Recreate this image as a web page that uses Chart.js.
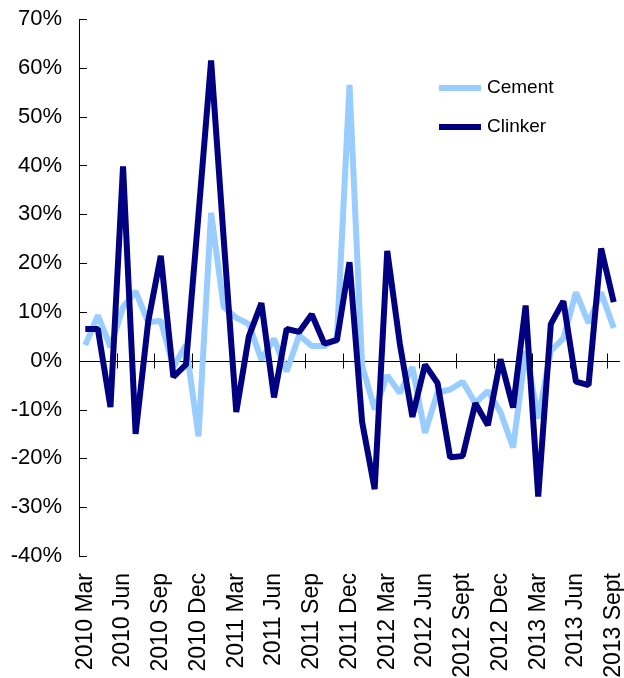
<!DOCTYPE html>
<html>
<head>
<meta charset="utf-8">
<script src="https://cdn.jsdelivr.net/npm/chart.js@4"></script>
<style>
  html, body { margin: 0; padding: 0; background: #fff; }
  #box { width: 624px; height: 678px; }
</style>
</head>
<body>
<div id="box"><canvas id="graphe"></canvas></div>
<script>
// donnees (variation en %)

var mois = [
  "2010 Mar","2010 Apr","2010 May","2010 Jun","2010 Jul","2010 Aug","2010 Sep","2010 Oct","2010 Nov","2010 Dec",
  "2011 Jan","2011 Feb","2011 Mar","2011 Apr","2011 May","2011 Jun","2011 Jul","2011 Aug","2011 Sep","2011 Oct","2011 Nov","2011 Dec",
  "2012 Jan","2012 Feb","2012 Mar","2012 Apr","2012 May","2012 Jun","2012 Jul","2012 Aug","2012 Sept","2012 Oct","2012 Nov","2012 Dec",
  "2013 Jan","2013 Feb","2013 Mar","2013 Apr","2013 May","2013 Jun","2013 Jul","2013 Aug","2013 Sept"
];

var cement = [
  3.2, 9.3, 2.8, 11, 14.2, 7.9, 8.2, -1.3, 3.2, -15.5,
  30.3, 11, 8.8, 7.5, 0.2, 4.5, -2.2, 5.2, 3, 3, 4.6, 56.5,
  -1, -10, -3, -6.6, -1.3, -14.8, -6.5, -5.9, -4.3, -8.7, -6.2, -10.5,
  -17.8, 2, -11.8, 2, 4.6, 14, 7.7, 14, 6.7
];

var clinker = [
  6.5, 6.5, -9.5, 39.8, -15, 8, 21.5, -3.3, -0.8, 30,
  61.5, 25, -10.5, 5, 11.8, -7.5, 6.5, 5.9, 9.5, 3.5, 4.2, 20.2,
  -12.5, -26.3, 22.5, 3.5, -11.5, -0.8, -4.6, -19.8, -19.5, -8.7, -13.2, 0.3,
  -9.6, 11.3, -27.8, 7.5, 12.2, -4.3, -5, 23, 12
];

var yMin = -40, yMax = 70, yPas = 10;

var couleurCement = "#99ccff";
var couleurClinker = "#000080";

Chart.defaults.font.family = "'Liberation Sans', Arial, sans-serif";
Chart.defaults.color = "#000";

// axes dessines a la main : ligne du zero, petits traits

var axesPlugin = {
  id: "axesExcel",
  beforeDatasetsDraw: function(chart) {
    var ctx = chart.ctx;
    var area = chart.chartArea;
    var x = chart.scales.x;
    var y = chart.scales.y;
    var y0 = Math.round(y.getPixelForValue(0)) + 0.5;
    var demi = (x.getPixelForValue(1) - x.getPixelForValue(0)) / 2;

    ctx.save();
    ctx.strokeStyle = "#000";
    ctx.lineWidth = 1;
    ctx.beginPath();

    // traits interieurs axe y
    y.ticks.forEach(function(t) {
      var py = Math.round(y.getPixelForValue(t.value)) + 0.5;
      ctx.moveTo(area.left, py);
      ctx.lineTo(area.left + 8, py);
    });

    // ligne du zero
    ctx.moveTo(area.left, y0);
    ctx.lineTo(area.right, y0);

    // traits tous les 3 mois
    for (let i = 3; i < mois.length; i += 3) {
      var px = Math.round(x.getPixelForValue(i) - demi) + 0.5;
      ctx.moveTo(px, y0 - 8);
      ctx.lineTo(px, y0 + 7);
    }
    ctx.stroke();
    ctx.restore();
  },
  afterDraw: function(chart) {
    // legende dans la zone du graphe
    var ctx = chart.ctx;
    var area = chart.chartArea;
    var lx = area.right - 181;
    var ly = area.top + 69;
    var series = [chart.data.datasets[0], chart.data.datasets[1]];

    ctx.save();
    ctx.font = "19px 'Liberation Sans', Arial, sans-serif";
    ctx.textBaseline = "middle";
    ctx.fillStyle = "#000";
    series.forEach(function(ds, k) {
      var yy = ly + k * 39;
      ctx.strokeStyle = ds.borderColor;
      ctx.lineWidth = 6;
      ctx.beginPath();
      ctx.moveTo(lx, yy);
      ctx.lineTo(lx + 42, yy);
      ctx.stroke();
      ctx.fillText(ds.label, lx + 48, yy);
    });
    ctx.restore();
  }
};

var chart = new Chart(document.getElementById("graphe"), {
  type: "line",
  data: {
    labels: mois,
    datasets: [
      {
        label: "Cement",
        data: cement,
        borderColor: couleurCement,
        borderWidth: 6,
        borderJoinStyle: "bevel",
        pointRadius: 0,
        tension: 0,
        order: 2
      },
      {
        label: "Clinker",
        data: clinker,
        borderColor: couleurClinker,
        borderWidth: 6,
        borderJoinStyle: "bevel",
        pointRadius: 0,
        tension: 0,
        order: 1
      }
    ]
  },
  options: {
    responsive: true,
    maintainAspectRatio: false,
    animation: false,
    layout: { padding: { top: 19, right: 4, left: 0, bottom: 0 } },
    plugins: {
      legend: { display: false },
      tooltip: { enabled: false }
    },
    scales: {
      x: {
        offset: true,
        grid: { display: false },
        border: { display: false },
        ticks: {
          autoSkip: false,
          maxRotation: 90,
          minRotation: 90,
          padding: 9,
          font: { size: 23 },
          callback: function(value, index) {
            return index % 3 == 0 ? this.getLabelForValue(value) : "";
          }
        },
        afterFit: function(scale) {
          scale.height = 122;
          scale.paddingLeft = 0;
          scale.paddingRight = 0;
        }
      },
      y: {
        min: yMin,
        max: yMax,
        grid: { display: false },
        border: { display: true, color: "#000", width: 1 },
        ticks: {
          stepSize: yPas,
          padding: 9,
          font: { size: 22 },
          callback: function(v) { return v + "%"; }
        },
        afterFit: function(scale) {
          scale.width = 79;
          scale.paddingTop = 0;
          scale.paddingBottom = 0;
        }
      }
    }
  },
  plugins: [axesPlugin]
});
</script>
</body>
</html>
